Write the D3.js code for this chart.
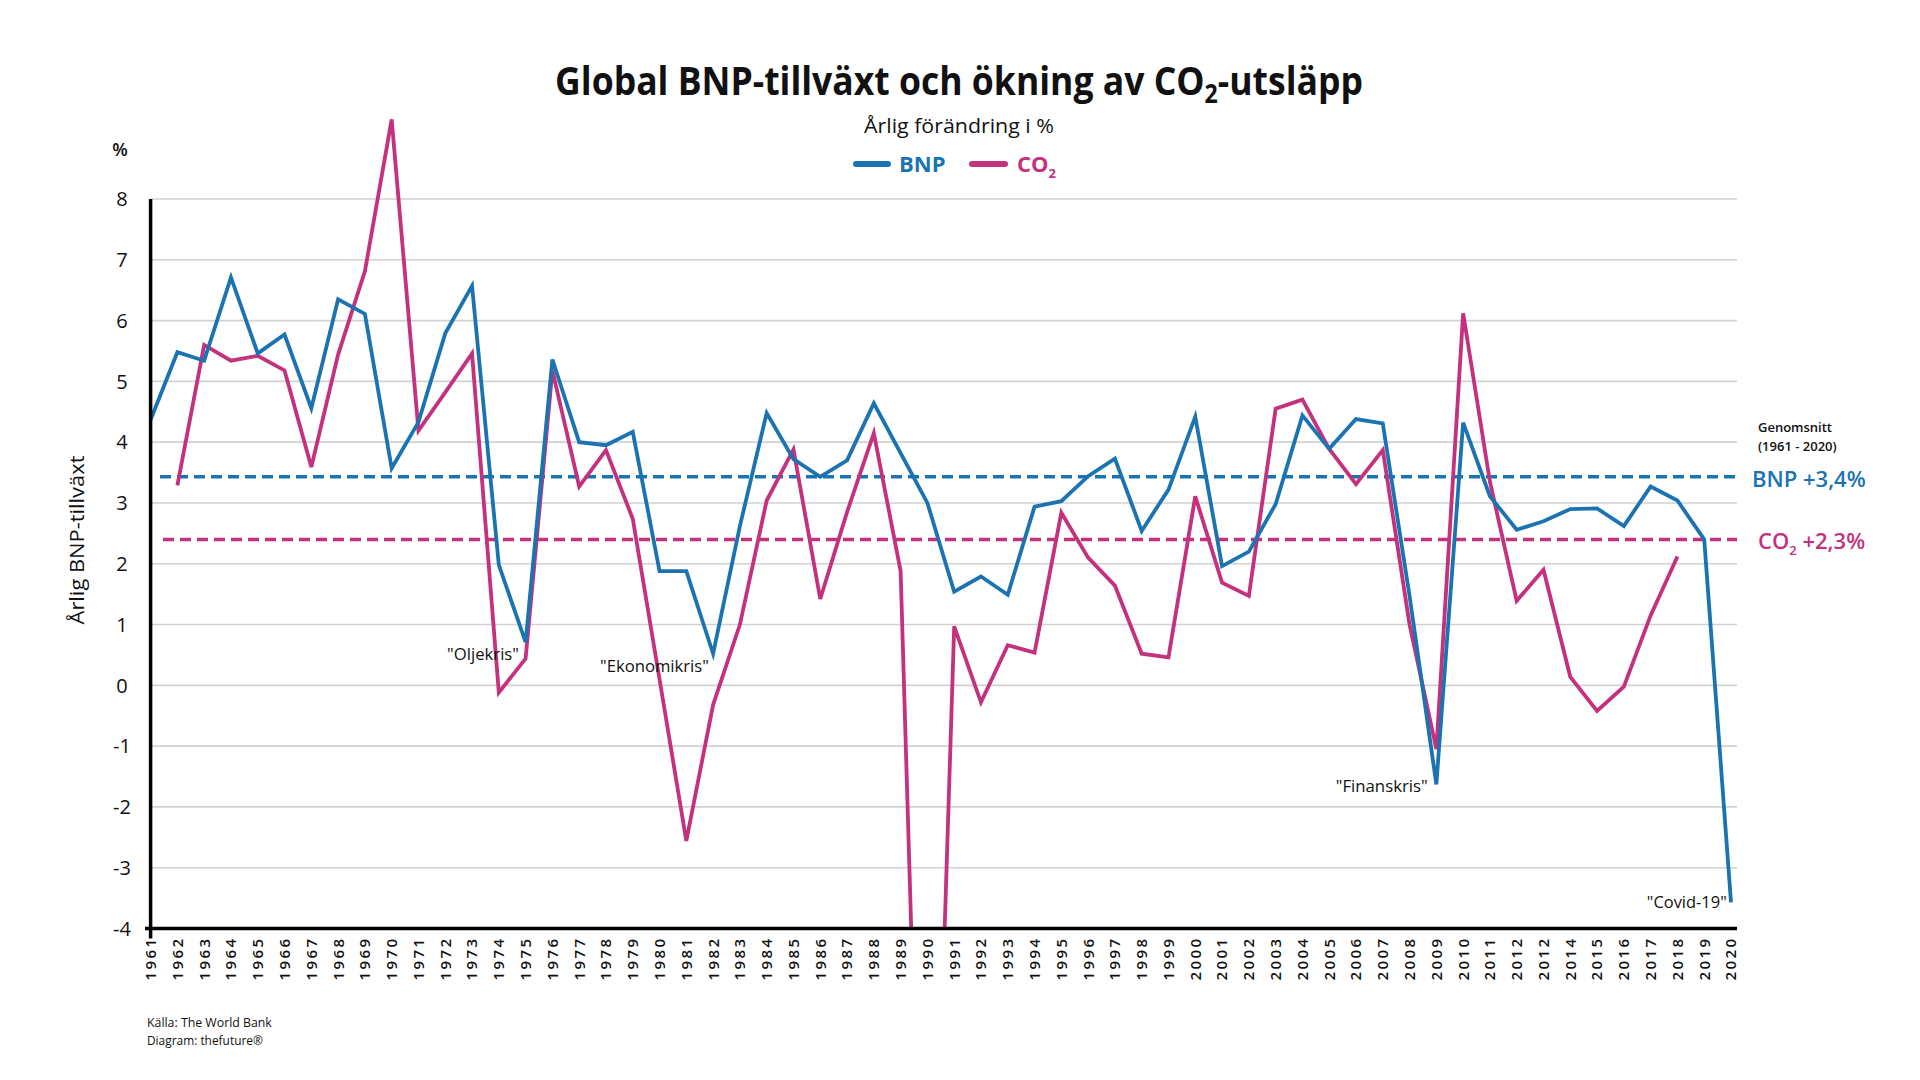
<!DOCTYPE html>
<html><head><meta charset="utf-8">
<script src="https://cdn.jsdelivr.net/npm/d3@7"></script>
<style>
html,body{margin:0;padding:0;background:#fff;}
svg{display:block;font-family:"Open Sans",sans-serif;}
</style></head>
<body>
<svg id="chart" width="1920" height="1080"></svg>
<script>
// ---------- DATA ----------
const years = [1961,1962,1963,1964,1965,1966,1967,1968,1969,1970,1971,1972,1973,1974,1975,1976,1977,1978,1979,1980,
  1981,1982,1983,1984,1985,1986,1987,1988,1989,1990,1991,1992,1993,1994,1995,1996,1997,1998,1999,2000,
  2001,2002,2003,2004,2005,2006,2007,2008,2009,2010,2011,2012,2013,2014,2015,2016,2017,2018,2019,2020];
// tick labels exactly as printed in the source (note the repeated "2012")
const tickLabels = ["1961","1962","1963","1964","1965","1966","1967","1968","1969","1970","1971","1972","1973","1974","1975","1976","1977","1978","1979","1980",
  "1981","1982","1983","1984","1985","1986","1987","1988","1989","1990","1991","1992","1993","1994","1995","1996","1997","1998","1999","2000",
  "2001","2002","2003","2004","2005","2006","2007","2008","2009","2010","2011","2012","2012","2014","2015","2016","2017","2018","2019","2020"];
const bnp = [4.37,5.48,5.34,6.71,5.46,5.77,4.56,6.35,6.11,3.57,4.33,5.79,6.57,1.98,0.71,5.36,4.00,3.95,4.17,1.88,
  1.88,0.52,2.62,4.48,3.72,3.43,3.70,4.64,3.82,3.00,1.54,1.79,1.49,2.94,3.03,3.44,3.73,2.54,3.22,4.42,
  1.96,2.20,2.98,4.44,3.89,4.38,4.31,1.47,-1.63,4.32,3.11,2.56,2.70,2.90,2.91,2.62,3.27,3.04,2.40,-3.57];
const co2 = [null,3.29,5.60,5.34,5.42,5.18,3.59,5.44,6.81,9.31,4.19,4.82,5.46,-0.12,0.44,5.18,3.27,3.87,2.74,0.10,
  -2.56,-0.32,1.00,3.04,3.88,1.42,2.85,4.15,1.88,-13.0,0.97,-0.28,0.66,0.54,2.84,2.10,1.64,0.52,0.46,3.11,
  1.69,1.47,4.55,4.70,3.89,3.31,3.87,1.00,-1.05,6.12,3.35,1.39,1.90,0.14,-0.42,-0.02,1.15,2.12,null,null];
const yTicks = [8,7,6,5,4,3,2,1,0,-1,-2,-3,-4];
const avgBnp = 3.43, avgCo2 = 2.40;
const annotations = [
  {text:'"Oljekris"', year:1973.41, value:0.41, w:72},
  {text:'"Ekonomikris"', year:1979.81, value:0.22, w:109},
  {text:'"Finanskris"', year:2006.96, value:-1.76, w:92},
  {text:'"Covid-19"', year:2018.35, value:-3.67, w:80}
];

// ---------- STYLE ----------
const BLUE = "#1b74b1", PINK = "#c4317c";
const svg = d3.select("#chart");
const x = d3.scaleLinear().domain([1961, 2020]).range([150.6, 1731]);
const y = d3.scaleLinear().domain([-4, 8]).range([928.5, 199]);
const xRight = 1737;

function fit(sel, w) {
  const n = sel.node();
  const len = n.getComputedTextLength();
  const x0 = +sel.attr("x");
  const s = w / len;
  sel.attr("transform", `translate(${x0},0) scale(${s},1) translate(${-x0},0)`);
}

// gridlines
svg.append("g").selectAll("line").data(yTicks.filter(d => d > -4)).join("line")
  .attr("x1", x(1961)).attr("x2", xRight)
  .attr("y1", d => y(d)).attr("y2", d => y(d))
  .attr("stroke", "#d2d2d2").attr("stroke-width", 1.6);

// y tick labels
svg.append("g").selectAll("text").data(yTicks).join("text")
  .attr("x", 122).attr("y", d => y(d)).attr("dy", "0.36em")
  .attr("text-anchor", "middle").attr("font-size", 20).attr("fill", "#111")
  .text(d => d);

svg.append("text").attr("x", 120).attr("y", 156).attr("text-anchor", "middle")
  .attr("font-size", 18).attr("font-weight", 600).attr("fill", "#111").text("%");

// y title
const yt = svg.append("g").attr("transform", `translate(84,540) rotate(-90)`)
  .append("text").attr("x", 0).attr("y", 0).attr("text-anchor", "middle")
  .attr("font-size", 20).attr("font-weight", 500).attr("fill", "#111")
  .text("Årlig BNP-tillväxt");
fit(yt, 169);

// average dashed lines
svg.append("line").attr("x1", 160).attr("x2", xRight).attr("y1", y(avgBnp)).attr("y2", y(avgBnp))
  .attr("stroke", BLUE).attr("stroke-width", 3.6).attr("stroke-dasharray", "11,6");
svg.append("line").attr("x1", 163).attr("x2", xRight).attr("y1", y(avgCo2)).attr("y2", y(avgCo2))
  .attr("stroke", PINK).attr("stroke-width", 3.6).attr("stroke-dasharray", "11,6");

// clip
svg.append("clipPath").attr("id", "plotclip").append("rect")
  .attr("x", 140).attr("y", 100).attr("width", 1620).attr("height", y(-4) - 100);

const line = d3.line().defined(d => d[1] !== null).x(d => x(d[0])).y(d => y(d[1]));
svg.append("path").datum(years.map((yr, i) => [yr, co2[i]]))
  .attr("clip-path", "url(#plotclip)")
  .attr("d", line).attr("fill", "none").attr("stroke", PINK).attr("stroke-width", 3.8)
  .attr("stroke-linejoin", "miter");
svg.append("path").datum(years.map((yr, i) => [yr, bnp[i]]))
  .attr("d", line).attr("fill", "none").attr("stroke", BLUE).attr("stroke-width", 3.8)
  .attr("stroke-linejoin", "miter");

// axes lines
svg.append("line").attr("x1", x(1961)).attr("x2", x(1961)).attr("y1", y(8)).attr("y2", y(-4) + 10)
  .attr("stroke", "#000").attr("stroke-width", 3.5);
svg.append("line").attr("x1", 145).attr("x2", xRight).attr("y1", y(-4)).attr("y2", y(-4))
  .attr("stroke", "#000").attr("stroke-width", 3.5);

// x tick labels
svg.append("g").selectAll("text").data(years).join("text")
  .attr("transform", d => `translate(${x(d)},${y(-4) + 8}) rotate(-90)`)
  .attr("text-anchor", "end").attr("dy", "0.36em")
  .attr("font-size", 15).attr("font-weight", 600).attr("letter-spacing", 2.4).attr("fill", "#111")
  .text((d, i) => tickLabels[i]);

// annotations
annotations.forEach(a => {
  const t = svg.append("text").attr("x", x(a.year)).attr("y", y(a.value))
    .attr("text-anchor", "middle").attr("font-size", 16).attr("font-weight", 500).attr("fill", "#111").text(a.text);
  fit(t, a.w);
});

// Title
const title = svg.append("text").attr("x", 959).attr("y", 95).attr("text-anchor", "middle")
  .attr("font-size", 40).attr("font-weight", 700).attr("fill", "#111");
title.append("tspan").text("Global BNP-tillväxt och ökning av CO");
title.append("tspan").attr("font-size", 26).attr("dy", 8).text("2");
title.append("tspan").attr("dy", -8).text("-utsläpp");
fit(title, 808);

const sub = svg.append("text").attr("x", 959).attr("y", 133).attr("text-anchor", "middle")
  .attr("font-size", 20).attr("font-weight", 500).attr("fill", "#111").text("Årlig förändring i %");
fit(sub, 190);

// legend
const legY = 164;
svg.append("line").attr("x1", 856).attr("x2", 888).attr("y1", legY).attr("y2", legY)
  .attr("stroke", BLUE).attr("stroke-width", 6).attr("stroke-linecap", "round");
svg.append("text").attr("x", 899).attr("y", legY + 8).attr("font-size", 22).attr("font-weight", 700)
  .attr("fill", BLUE).text("BNP");
svg.append("line").attr("x1", 972).attr("x2", 1005).attr("y1", legY).attr("y2", legY)
  .attr("stroke", PINK).attr("stroke-width", 6).attr("stroke-linecap", "round");
const lc = svg.append("text").attr("x", 1017).attr("y", legY + 8).attr("font-size", 22).attr("font-weight", 700)
  .attr("fill", PINK);
lc.append("tspan").text("CO");
lc.append("tspan").attr("font-size", 13).attr("dy", 6).text("2");

// right labels
svg.append("text").attr("x", 1758).attr("y", 432).attr("font-size", 13).attr("font-weight", 600)
  .attr("fill", "#111").text("Genomsnitt");
svg.append("text").attr("x", 1758).attr("y", 451).attr("font-size", 13).attr("font-weight", 600)
  .attr("fill", "#111").text("(1961 - 2020)");
svg.append("text").attr("x", 1752).attr("y", 487).attr("font-size", 22).attr("font-weight", 600)
  .attr("fill", BLUE).text("BNP +3,4%");
const rc = svg.append("text").attr("x", 1758).attr("y", 549).attr("font-size", 22).attr("font-weight", 600)
  .attr("fill", PINK);
rc.append("tspan").text("CO");
rc.append("tspan").attr("font-size", 13).attr("dy", 6).text("2");
rc.append("tspan").attr("dy", -6).text(" +2,3%");

// footer
const f1 = svg.append("text").attr("x", 147).attr("y", 1027).attr("font-size", 13).attr("font-weight", 500)
  .attr("fill", "#111").text("Källa: The World Bank");
fit(f1, 125);
const f2 = svg.append("text").attr("x", 147).attr("y", 1045).attr("font-size", 13).attr("font-weight", 500)
  .attr("fill", "#111").text("Diagram: thefuture®");
fit(f2, 116);
</script>
</body></html>
